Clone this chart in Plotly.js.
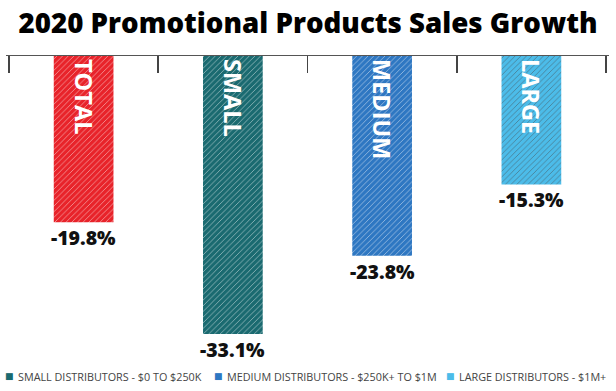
<!DOCTYPE html>
<html><head><meta charset="utf-8">
<script src="https://cdn.plot.ly/plotly-3.0.1.min.js"></script>
<style>html,body{margin:0;padding:0;background:#fff}#chart{width:616px;height:391px}</style>
</head><body><div id="chart"></div>
<script>
var categories = ["TOTAL", "SMALL", "MEDIUM", "LARGE"];
var values = [-19.8, -33.1, -23.8, -15.3];
var valueLabels = ["-19.8%", "-33.1%", "-23.8%", "-15.3%"];
var barColors = ["#e8232a", "#1a6a70", "#2e77c2", "#4cbce9"];
var legendLabels = ["SMALL DISTRIBUTORS - $0 TO $250K", "MEDIUM DISTRIBUTORS - $250K+ TO $1M", "LARGE DISTRIBUTORS - $1M+"];
var legendColors = ["#1a6a70", "#2e77c2", "#4cbce9"];

var traces = [{
  type: "bar", x: categories, y: values, width: 0.4,
  marker: {color: barColors, line: {width: 0},
    pattern: {shape: "/", fillmode: "overlay", fgcolor: "#ffffff", fgopacity: 0.55, size: 4, solidity: 0.2}},
  text: categories, textposition: "inside", insidetextanchor: "start", textangle: 90,
  textfont: {family: "Open Sans", size: 23.5, color: "#ffffff", weight: 700},
  hoverinfo: "skip", showlegend: false, cliponaxis: false
}];
var annotations = categories.map(function(c, i) {
  return {x: c, y: values[i], xref: "x", yref: "y", text: valueLabels[i], showarrow: false,
    yanchor: "top", yshift: 0, font: {family: "Open Sans", size: 19.5, color: "#111", weight: 800}};
});
// legend: square + label, pixel offsets from the left paper edge
var legendSquareShift = [-3, 206, 438];
var legendTextShift = [10, 219, 451];
legendLabels.forEach(function(t, i) {
  annotations.push({x: 0, y: -0.053, xref: "paper", yref: "paper", xanchor: "left", yanchor: "middle",
    xshift: legendSquareShift[i], showarrow: false, text: "■",
    font: {family: "DejaVu Sans", size: 9, color: legendColors[i]}});
  annotations.push({x: 0, y: -0.053, xref: "paper", yref: "paper", xanchor: "left", yanchor: "middle",
    xshift: legendTextShift[i], showarrow: false, text: t,
    font: {family: "Open Sans", size: 10.8, color: "#444"}});
});
var layout = {
  width: 616, height: 391, paper_bgcolor: "#fff", plot_bgcolor: "#fff",
  margin: {l: 6, r: 7, t: 56, b: 31, pad: 0},
  title: {text: "2020 Promotional Products Sales Growth", x: 0.5, xanchor: "center", y: 0.94, yanchor: "middle",
    font: {family: "Open Sans", size: 27.7, color: "#000", weight: 800}},
  xaxis: {type: "category", side: "top", range: [-0.52, 3.52], showticklabels: false, ticks: "",
    showline: true, linecolor: "#555", linewidth: 1.5, showgrid: false, zeroline: false},
  xaxis2: {overlaying: "x", anchor: "y", side: "top", range: [-0.52, 3.52], tickvals: [-0.5, 0.5, 1.5, 2.5, 3.5],
    showticklabels: false, ticks: "inside", ticklen: 17, tickwidth: 1.5, tickcolor: "#444", showline: false, showgrid: false, zeroline: false},
  yaxis: {range: [-36.2, 0], visible: false, showgrid: false, zeroline: false},
  showlegend: false,
  annotations: annotations
};
traces.push({type: "scatter", mode: "markers", x: [null], y: [null], xaxis: "x2", yaxis: "y", showlegend: false, hoverinfo: "skip"});
Plotly.newPlot("chart", traces, layout, {displayModeBar: false, staticPlot: true});
</script></body></html>
